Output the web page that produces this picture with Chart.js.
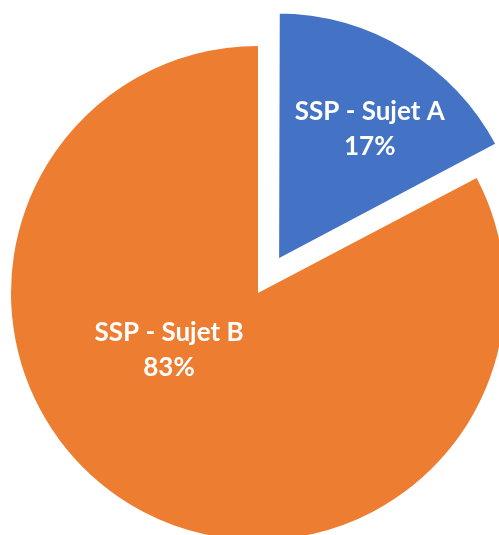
<!DOCTYPE html>
<html>
<head>
<meta charset="utf-8">
<script src="https://cdn.jsdelivr.net/npm/chart.js@4"></script>
<style>
  html, body { margin: 0; padding: 0; background: #ffffff; overflow: hidden; }
  #wrap { position: absolute; left: 0; top: 0; width: 516px; height: 586px; }
</style>
</head>
<body>
<div id="wrap"><canvas id="myChart"></canvas></div>
<script>
// chart values (shares in %, the labels show them rounded)
let categories = ['SSP - Sujet A', 'SSP - Sujet B'];
let shares = [17.3, 82.7];
let sliceColors = ['#4472C4', '#ED7D31'];
// Chart.js v4 moves an arc by offset / 4, so the pulled-out slice needs a big number
let sliceOffsets = [144, 0];
// white edge on the pulled slice keeps its radius close to the rest of the pie
let sliceBorders = [5, 0];

// where the data labels sit: fraction of the radius, turn from mid angle (deg)
let labelRadius = [0.806, 0.426];
let labelTurn = [3.0, 26.6];

// draws "name / percent" in the middle of each slice
const sliceLabels = {
    id: 'sliceLabels',
    afterDatasetsDraw(chart) {
        const ctx = chart.ctx;
        const arcs = chart.getDatasetMeta(0).data;
        ctx.save();
        ctx.fillStyle = '#ffffff';
        ctx.font = 'bold 26px Lato';
        ctx.textAlign = 'center';
        ctx.textBaseline = 'middle';
        arcs.forEach(function (arc, i) {
            let mid = (arc.startAngle + arc.endAngle) / 2 + labelTurn[i] * Math.PI / 180;
            let r = arc.outerRadius * labelRadius[i];
            let x = arc.x + Math.cos(mid) * r;
            let y = arc.y + Math.sin(mid) * r;
            ctx.fillText(categories[i], x, y - 17);
            ctx.fillText(Math.round(shares[i]) + '%', x, y + 18);
        });
        ctx.restore();
    }
};

const ctx = document.getElementById('myChart').getContext('2d');
let myChart = new Chart(ctx, {
    type: 'pie',
    data: {
        labels: categories,
        datasets: [{
            data: shares,
            backgroundColor: sliceColors,
            borderColor: '#ffffff',
            borderWidth: sliceBorders,
            offset: sliceOffsets,
            radius: 247
        }]
    },
    options: {
        responsive: true,
        maintainAspectRatio: false,
        animation: false,
        layout: { padding: 0 },
        plugins: {
            legend: { display: false },
            tooltip: { enabled: false }
        }
    },
    plugins: [sliceLabels]
});
</script>
</body>
</html>
